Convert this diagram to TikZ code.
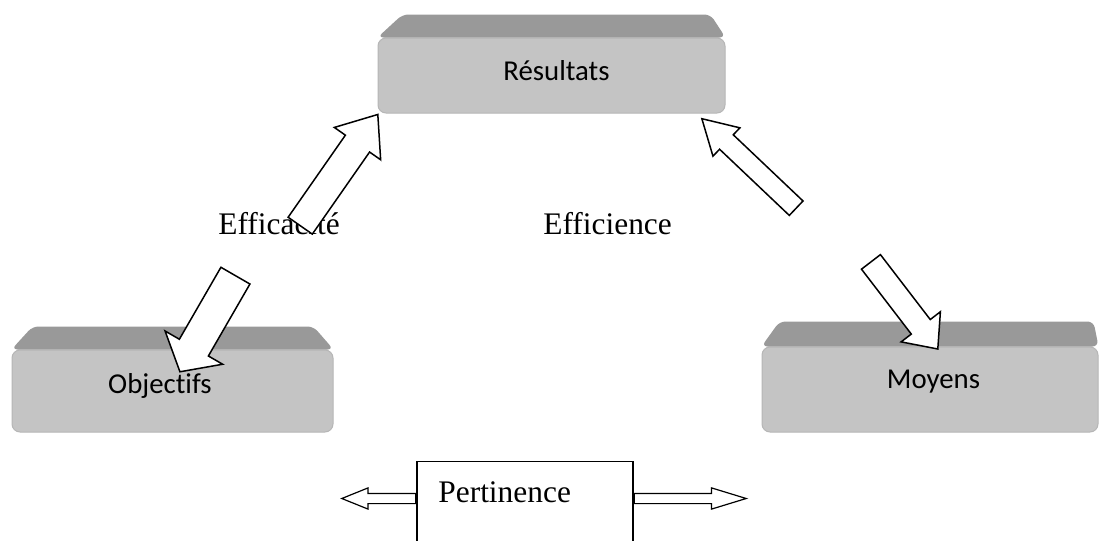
\documentclass[tikz,border=0pt]{standalone}
\usepackage{fontspec}
\setmainfont{Liberation Serif}
\newfontfamily\boxfont[Ligatures=NoCommon]{Carlito}
\usetikzlibrary{shapes.arrows,calc}
\definecolor{facegray}{RGB}{196,196,196}
\definecolor{bandgray}{RGB}{153,153,153}
\definecolor{rimgray}{RGB}{182,182,182}
\tikzset{
  face/.style={fill=facegray, draw=rimgray, line width=0.5pt, rounded corners=4pt, inner sep=0pt},
  band/.style={fill=bandgray, rounded corners=3pt},
  boxlabel/.style={font=\boxfont\fontsize{14.4}{17}\selectfont, inner sep=0pt, anchor=base},
  word/.style={font=\fontsize{15.7}{19}\selectfont, inner sep=0pt, anchor=base west},
  blockarrow/.style={single arrow, draw, fill=white, line width=0.75pt, inner xsep=0pt, minimum width=0pt, anchor=tail},
  thinarrow/.style={single arrow, draw, fill=white, line width=0.6pt, inner xsep=0pt, inner ysep=2.25pt, minimum width=0pt, single arrow head extend=2.75pt, anchor=tail}
}
\begin{document}
\begin{tikzpicture}[x=0.5pt, y=-0.5pt]
\clip (0,0) rectangle (1099,541);

\node[face, minimum width=173.5pt, minimum height=37.5pt] (resbox) at (551.5,75.5) {};
\node[face, minimum width=160.5pt, minimum height=41pt] (objbox) at (172.5,391) {};
\node[face, minimum width=168pt, minimum height=42.5pt] (moybox) at (930,389.5) {};

\fill[band] (resbox.north west) -- ($(resbox.north west)+(25,-23)$) -- ($(resbox.north east)+(-15,-23)$) -- (resbox.north east) -- cycle;
\fill[band] (objbox.north west) -- ($(objbox.north west)+(21,-23)$) -- ($(objbox.north east)+(-20,-23)$) -- (objbox.north east) -- cycle;
\fill[band] (moybox.north west) -- ($(moybox.north west)+(18,-25)$) -- ($(moybox.north east)+(-5,-25)$) -- (moybox.north east) -- cycle;

\node[boxlabel] (res) at (556.5,80) {Résultats};
\node[boxlabel] (obj) at (160,393) {Objectifs};
\node[boxlabel] (moy) at (933.5,388) {Moyens};

\node[word] (efficacite) at (218,234) {Efficacité};
\node[word] (efficience) at (543,234) {Efficience};

\node[draw, line width=0.6pt, minimum width=108pt, minimum height=80pt, inner sep=0pt, anchor=north] (pertbox) at (525,461) {};
\node[word] (pert) at (438,502) {Pertinence};
\node[thinarrow, rotate=180, minimum height=37pt, single arrow tip angle=44] (pertleft) at ($(pertbox.north west)+(0,37.5)$) {};
\node[thinarrow, minimum height=56pt, single arrow tip angle=34] (pertright) at ($(pertbox.north east)+(0,37.5)$) {};

\node[blockarrow, rotate=55.1, minimum height=67.8pt, inner ysep=7pt, single arrow head extend=6.75pt, single arrow tip angle=77] (toresleft) at (299.8,226.3) {};
\node[blockarrow, rotate=-120, minimum height=55.5pt, inner ysep=8pt, single arrow head extend=8.25pt, single arrow tip angle=100] (toobj) at (235.8,275) {};
\node[blockarrow, rotate=136.5, minimum height=65pt, inner ysep=4.6pt, single arrow head extend=4.8pt, single arrow tip angle=60] (toresright) at (796.7,208.7) {};
\node[blockarrow, rotate=-52.5, minimum height=54.9pt, inner ysep=5.6pt, single arrow head extend=6.4pt, single arrow tip angle=83] (tomoy) at (870.5,261.3) {};
\end{tikzpicture}
\end{document}
